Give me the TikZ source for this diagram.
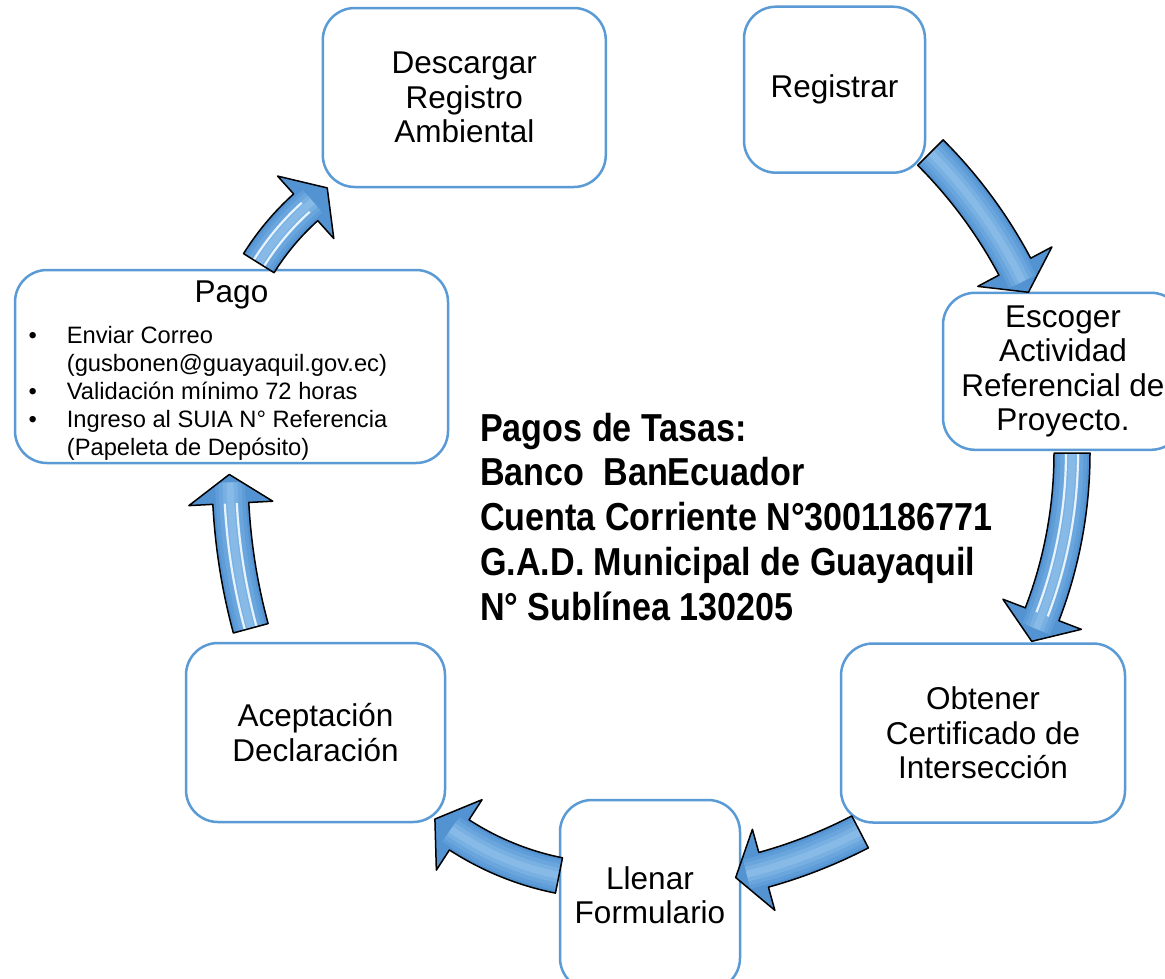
\documentclass[tikz,border=0pt]{standalone}
\usepackage{fontspec}
\setmainfont{Liberation Sans}
\newfontfamily\tasafont[FakeStretch=0.875]{Liberation Sans}
\usetikzlibrary{calc}
\definecolor{boxblue}{HTML}{5B9BD5}
\definecolor{arrowbase}{HTML}{5393D2}
\definecolor{arrowm1}{HTML}{5E9DD8}
\definecolor{arrowm2}{HTML}{6AA6DD}
\definecolor{arrowm3}{HTML}{78B0E2}
\definecolor{arrowm4}{HTML}{88BAE7}
\definecolor{stripe}{HTML}{E6F3FD}
\tikzset{
  stepbox/.style={draw=boxblue, line width=2.5pt, fill=white, rounded corners=32pt,
    align=center, inner sep=0pt, font=\fontsize{31.5}{34.5}\selectfont},
  pagoitem/.style={anchor=base west, inner sep=0pt, font=\fontsize{23.7}{28}\selectfont},
  pagobullet/.style={anchor=base, inner sep=0pt, font=\fontsize{23.7}{28}\selectfont},
  tasaline/.style={anchor=base west, inner sep=0pt, font=\tasafont\bfseries\fontsize{39}{45}\selectfont},
  arrowline/.style={draw=black, line width=1.5pt, line join=round},
}
% #1 centre coordinate, #2 radius, #3 start angle, #4 end angle, #5 name, #6 stripes (1/0)
\newcommand\cyclearrow[6]{%
  \pgfmathsetmacro\Ro{#2+18}%
  \pgfmathsetmacro\Ri{#2-18}%
  \pgfmathsetmacro\Rho{#2+42}%
  \pgfmathsetmacro\Rhi{#2-42}%
  \pgfmathsetmacro\At{#4+90}%
  \pgfmathsetmacro\Ae{#4+2}%
  \pgfmathsetmacro\Rs{#2+6}%
  \pgfmathsetmacro\Rt{#2-6}%
  \coordinate (#5-tip) at ($(#1)+(#4:#2)+(\At:29)$);
  \coordinate (#5-a) at ($(#1)+(#3:\Ro)$);
  \coordinate (#5-b) at ($(#1)+(#4:\Rho)$);
  \coordinate (#5-c) at ($(#1)+(#4:\Rhi)$);
  \coordinate (#5-d) at ($(#1)+(#4:\Ri)$);
  \coordinate (#5-m) at ($(#1)+(#3:#2)$);
  \coordinate (#5-s) at ($(#1)+(#3:\Rs)$);
  \coordinate (#5-t) at ($(#1)+(#3:\Rt)$);
  \path[fill=arrowbase, save path=\arrowpath] (#5-a) arc[start angle=#3, end angle=#4, radius=\Ro]
     -- (#5-b) -- (#5-tip) -- (#5-c) -- (#5-d) arc[start angle=#4, end angle=#3, radius=\Ri] -- cycle;
  \begin{scope}
    \path[use path=\arrowpath, clip];
    \draw[line width=30pt, arrowm1] (#5-m) arc[start angle=#3, end angle=\Ae, radius=#2];
    \draw[line width=23pt, arrowm2] (#5-m) arc[start angle=#3, end angle=\Ae, radius=#2];
    \draw[line width=15pt, arrowm3] (#5-m) arc[start angle=#3, end angle=\Ae, radius=#2];
    \draw[line width=7pt, arrowm4] (#5-m) arc[start angle=#3, end angle=\Ae, radius=#2];
    \ifnum#6=1
      \draw[line width=2.2pt, stripe] (#5-s) arc[start angle=#3, end angle=#4, radius=\Rs];
      \draw[line width=2.2pt, stripe] (#5-t) arc[start angle=#3, end angle=#4, radius=\Rt];
    \fi
  \end{scope}
  \path[arrowline, use path=\arrowpath];
}
\begin{document}
\begin{tikzpicture}[x=1pt, y=-1pt]
\useasboundingbox (0,0) rectangle (1165,978);
\clip (0,0) rectangle (1165,978);
\fill[white] (0,0) rectangle (1165,978);

% boxes
\node[stepbox, minimum width=283pt, minimum height=179pt] (desc) at (464.3,97.5) {Descargar\\Registro\\Ambiental};
\node[stepbox, minimum width=181pt, minimum height=166pt] (reg) at (834.5,89.7) {Registrar};
\node[stepbox, minimum width=240pt, minimum height=157pt] (esc) at (1063,371.3) {Escoger\\Actividad\\Referencial de\\Proyecto.};
\node[stepbox, minimum width=284pt, minimum height=179pt] (obt) at (983,733) {Obtener\\Certificado de\\Intersección};
\node[stepbox, minimum width=180pt, minimum height=190pt] (llen) at (650,895) {Llenar\\Formulario};
\node[stepbox, minimum width=259pt, minimum height=179pt] (acep) at (315.5,732.5) {Aceptación\\Declaración};
\node[stepbox, minimum width=433pt, minimum height=193pt] (pago) at (231.5,366.5) {};

% Pago contents
\node[anchor=base, inner sep=0pt, font=\fontsize{31.5}{34.5}\selectfont] (pagotitle) at (231.5,302) {Pago};
\node[pagobullet] (b1) at (32.7,343) {•};
\node[pagobullet] (b2) at (32.7,399) {•};
\node[pagobullet] (b3) at (32.7,427) {•};
\node[pagoitem] (p1) at (66.7,343) {Enviar Correo};
\node[pagoitem] (p2) at (66.7,371) {(gusbonen@guayaquil.gov.ec)};
\node[pagoitem] (p3) at (66.7,399) {Validación mínimo 72 horas};
\node[pagoitem] (p4) at (66.7,427) {Ingreso al SUIA N° Referencia};
\node[pagoitem] (p5) at (66.7,455) {(Papeleta de Depósito)};

% centre text
\node[tasaline] (t1) at (480,441) {Pagos de Tasas:};
\node[tasaline] (t2) at (480,485) {Banco\ \ BanEcuador};
\node[tasaline] (t3) at (480,530) {Cuenta Corriente N°3001186771};
\node[tasaline] (t4) at (480,575) {G.A.D. Municipal de Guayaquil};
\node[tasaline] (t5) at (480,620) {N° Sublínea 130205};

% arrow centres
\coordinate (c1) at (591,492);
\coordinate (c2) at (622,453);
\coordinate (c3) at (630,388);
\coordinate (c4) at (615,595);
\coordinate (c5) at (830,472);
\coordinate (c6) at (481,402);

\cyclearrow{c1}{480}{-45}{-28}{regesc}{0}
\cyclearrow{c2}{450}{0}{21}{escobt}{1}
\cyclearrow{c3}{500}{62.6}{74.5}{obtllen}{0}
\cyclearrow{c4}{286}{101.3}{123}{llenacep}{0}
\cyclearrow{c5}{600}{164.9}{177}{aceppago}{1}
\cyclearrow{c6}{262}{212}{228}{pagodesc}{1}
\end{tikzpicture}
\end{document}
